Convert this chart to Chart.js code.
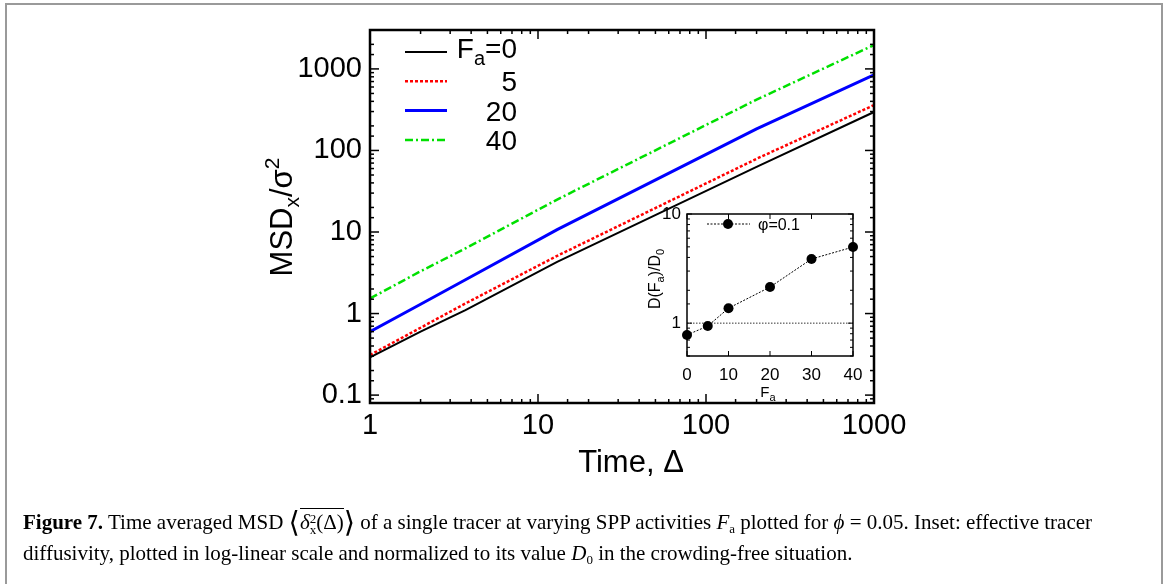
<!DOCTYPE html>
<html lang="en">
<head>
<meta charset="utf-8" />
<title>Figure 7</title>
<style>
    html, body { margin: 0; padding: 0; background: #fff; width: 1168px; height: 584px; overflow: hidden; }
    .frame { position: absolute; left: 5px; top: 3px; width: 1158px; height: 600px; border: 2px solid #9a9a9a; box-sizing: border-box; }
    #main { position: absolute; left: 0; top: 0; }
    #inset { position: absolute; left: 620px; top: 190px; }
    .caption { position: absolute; left: 23px; top: 507px; font-family: "Liberation Serif", serif; font-size: 21px; line-height: 31px; white-space: nowrap; color: #000; }
    .caption i { font-style: italic; }
    .caption sub { font-size: 13px; vertical-align: -4px; line-height: 0; }
    .br { font-family: "DejaVu Serif", serif; font-size: 29px; vertical-align: -3px; line-height: 0; }
    .ov { border-top: 1.5px solid #000; padding-top: 1px; }
    .ss { display: inline-block; vertical-align: -5px; line-height: 11px; font-size: 13px; text-align: left; }
</style>
</head>
<body>
<div class="frame"></div>
<canvas id="main" width="1168" height="584"></canvas>
<canvas id="inset" width="260" height="220"></canvas>
<div class="caption"><b>Figure 7.</b> Time averaged MSD <span class="br">⟨</span><span class="ov"><i>δ</i><span class="ss">2<br>x</span>(Δ)</span><span class="br">⟩</span> of a single tracer at varying SPP activities <i>F</i><sub>a</sub> plotted for <i>ϕ</i> = 0.05. Inset: effective tracer<br>diffusivity, plotted in log-linear scale and normalized to its value <i>D</i><sub>0</sub> in the crowding-free situation.</div>

<script src="https://cdn.jsdelivr.net/npm/chart.js@4.4.1/dist/chart.umd.min.js"></script>
<script>
    // main plot: MSD vs lag time for each activity
    const delta = [1, 2, 3.7, 13, 200, 1000];
    const msdFa0 = [0.29, 0.6, 1.1, 4.3, 63, 296];
    const msdFa5 = [0.31, 0.67, 1.33, 5.1, 79, 360];
    const msdFa20 = [0.6, 1.3, 2.6, 10.7, 184, 845];
    const msdFa40 = [1.53, 3.3, 6.3, 25, 420, 1960];
    const faLabels = ['0', '5', '20', '40'];
    const xTicks = [1, 10, 100, 1000];
    const yTicks = [0.1, 1, 10, 100, 1000];

    // inset: diffusivity ratio vs Fa
    const faInset = [0, 5, 10, 20, 30, 40];
    const dRatio = [0.78, 0.94, 1.37, 2.14, 3.87, 4.98];
    const refX = [0, 40];
    const refY = [1, 1];
    const insetYTicks = [1, 10];

    const FONT = '"Liberation Sans", Arial, sans-serif';

    function pts(xs, ys) {
        return xs.map((x, i) => ({ x: x, y: ys[i] }));
    }

    function logLabel(list) {
        return function (v) {
            const t = list.find(t => Math.abs(Math.log10(v) - Math.log10(t)) < 1e-6);
            return t === undefined ? '' : String(t);
        };
    }

    function isDecade(v) {
        const l = Math.log10(v);
        return Math.abs(l - Math.round(l)) < 1e-6;
    }

    // text with sub/superscripts, parts = [[text, size, dy], ...]
    function drawRich(ctx, parts, x, y, align) {
        let w = 0;
        parts.forEach(p => { ctx.font = p[1] + 'px ' + FONT; w += ctx.measureText(p[0]).width; });
        let cx = align === 'center' ? x - w / 2 : (align === 'right' ? x - w : x);
        ctx.textAlign = 'left';
        ctx.textBaseline = 'alphabetic';
        parts.forEach(p => {
            ctx.font = p[1] + 'px ' + FONT;
            ctx.fillText(p[0], cx, y + (p[2] || 0));
            cx += ctx.measureText(p[0]).width;
        });
    }

    function seg(ctx, x1, y1, x2, y2) {
        ctx.beginPath();
        ctx.moveTo(x1, y1);
        ctx.lineTo(x2, y2);
        ctx.stroke();
    }

    // frame + inward ticks on all four sides
    function frameAndTicks(chart, o) {
        const { ctx, chartArea: a, scales } = chart;
        ctx.save();
        ctx.strokeStyle = '#000';
        ctx.lineWidth = o.tickWidth;
        scales.x.ticks.forEach(t => {
            if (t.value < scales.x.min || t.value > scales.x.max) return;
            const px = scales.x.getPixelForValue(t.value);
            const len = o.xMajor(t.value) ? o.major : o.minor;
            if (len <= 0) return;
            seg(ctx, px, a.bottom, px, a.bottom - len);
            seg(ctx, px, a.top, px, a.top + len);
        });
        scales.y.ticks.forEach(t => {
            if (t.value < scales.y.min || t.value > scales.y.max) return;
            const py = scales.y.getPixelForValue(t.value);
            const len = o.yMajor(t.value) ? o.major : o.minor;
            seg(ctx, a.left, py, a.left + len, py);
            seg(ctx, a.right, py, a.right - len, py);
        });
        ctx.lineWidth = o.frameWidth;
        ctx.strokeRect(a.left, a.top, a.right - a.left, a.bottom - a.top);
        ctx.restore();
    }

    const mainDecor = {
        id: 'mainDecor',
        afterDraw(chart) {
            const ctx = chart.ctx;
            frameAndTicks(chart, { major: 9, minor: 4, tickWidth: 1.5, frameWidth: 2.5, xMajor: isDecade, yMajor: isDecade });
            ctx.save();
            ctx.fillStyle = '#000';
            // x title
            drawRich(ctx, [['Time, Δ', 31]], 631, 472, 'center');
            // y title
            ctx.translate(292, 217);
            ctx.rotate(-Math.PI / 2);
            drawRich(ctx, [['MSD', 31], ['x', 21, 7], ['/σ', 31], ['2', 21, -13]], 0, 0, 'center');
            ctx.restore();

            // legend
            ctx.save();
            chart.data.datasets.forEach((ds, i) => {
                const y = 52 + i * 29.3;
                ctx.strokeStyle = ds.borderColor;
                ctx.lineWidth = ds.borderWidth;
                ctx.setLineDash(ds.borderDash || []);
                seg(ctx, 405, y, 447, y);
                ctx.setLineDash([]);
                ctx.fillStyle = '#000';
                if (i === 0) {
                    drawRich(ctx, [['F', 28], ['a', 20, 7], ['=' + faLabels[i], 28]], 517, y + 6, 'right');
                } else {
                    drawRich(ctx, [[faLabels[i], 28]], 517, y + 10, 'right');
                }
            });
            ctx.restore();
        }
    };

    new Chart(document.getElementById('main'), {
        type: 'line',
        data: {
            datasets: [{
                label: faLabels[0],
                data: pts(delta, msdFa0),
                borderColor: '#000000',
                borderWidth: 2,
            }, {
                label: faLabels[1],
                data: pts(delta, msdFa5),
                borderColor: '#ff0000',
                borderWidth: 2.5,
                borderDash: [3, 2],
            }, {
                label: faLabels[2],
                data: pts(delta, msdFa20),
                borderColor: '#0000ff',
                borderWidth: 3,
            }, {
                label: faLabels[3],
                data: pts(delta, msdFa40),
                borderColor: '#00e000',
                borderWidth: 2.5,
                borderDash: [8, 3, 2, 3],
            }],
        },
        options: {
            responsive: false,
            animation: false,
            devicePixelRatio: 1,
            layout: { padding: { left: 0, top: 30, right: 294, bottom: 0 } },
            elements: { point: { radius: 0 }, line: { tension: 0 } },
            plugins: { legend: { display: false }, tooltip: { enabled: false } },
            scales: {
                x: {
                    type: 'logarithmic',
                    min: 1,
                    max: 1000,
                    grid: { display: false, drawTicks: false },
                    border: { display: false },
                    ticks: {
                        autoSkip: false, maxRotation: 0, padding: 6,
                        color: '#000', font: { family: FONT, size: 29 },
                        callback: logLabel(xTicks),
                    },
                    afterFit(s) { s.height = 181; },
                },
                y: {
                    type: 'logarithmic',
                    min: 0.08,
                    max: 3000,
                    grid: { display: false, drawTicks: false },
                    border: { display: false },
                    ticks: {
                        autoSkip: false, padding: 8,
                        color: '#000', font: { family: FONT, size: 29 },
                        callback: logLabel(yTicks),
                    },
                    afterFit(s) { s.width = 370; },
                },
            },
        },
        plugins: [mainDecor],
    });

    const insetDecor = {
        id: 'insetDecor',
        afterDraw(chart) {
            const ctx = chart.ctx;
            frameAndTicks(chart, { major: 5, minor: 3, tickWidth: 1, frameWidth: 1.5, xMajor: () => true, yMajor: isDecade });
            ctx.save();
            ctx.fillStyle = '#000';
            drawRich(ctx, [['F', 15], ['a', 11, 4]], 148, 207, 'center');
            ctx.translate(40, 89);
            ctx.rotate(-Math.PI / 2);
            drawRich(ctx, [['D(F', 16], ['a', 11, 4], [')/D', 16], ['0', 11, 4]], 0, 0, 'center');
            ctx.restore();

            // legend
            ctx.save();
            ctx.strokeStyle = '#000';
            ctx.lineWidth = 1;
            ctx.setLineDash([2, 1.5]);
            seg(ctx, 87, 34, 130, 34);
            ctx.setLineDash([]);
            ctx.beginPath();
            ctx.arc(108, 34, 5, 0, Math.PI * 2);
            ctx.fillStyle = '#000';
            ctx.fill();
            drawRich(ctx, [['φ=0.1', 16]], 138, 40, 'left');
            ctx.restore();
        }
    };

    new Chart(document.getElementById('inset'), {
        type: 'line',
        data: {
            datasets: [{
                label: 'phi=0.1',
                data: pts(faInset, dRatio),
                borderColor: '#000',
                borderWidth: 1,
                borderDash: [2, 1.5],
                pointRadius: 5,
                pointBackgroundColor: '#000',
                pointBorderWidth: 0,
                clip: false,
            }, {
                label: 'ref',
                data: pts(refX, refY),
                borderColor: '#333',
                borderWidth: 1,
                borderDash: [1.5, 1.5],
                pointRadius: 0,
            }],
        },
        options: {
            responsive: false,
            animation: false,
            devicePixelRatio: 1,
            layout: { padding: { left: 0, top: 24, right: 27, bottom: 0 } },
            elements: { line: { tension: 0 } },
            plugins: { legend: { display: false }, tooltip: { enabled: false } },
            scales: {
                x: {
                    type: 'linear',
                    min: 0,
                    max: 40,
                    grid: { display: false, drawTicks: false },
                    border: { display: false },
                    ticks: {
                        stepSize: 10, autoSkip: false, maxRotation: 0, padding: 9,
                        color: '#000', font: { family: FONT, size: 17 },
                    },
                    afterFit(s) { s.height = 54; },
                },
                y: {
                    type: 'logarithmic',
                    min: 0.5,
                    max: 10,
                    grid: { display: false, drawTicks: false },
                    border: { display: false },
                    ticks: {
                        autoSkip: false, padding: 6,
                        color: '#000', font: { family: FONT, size: 17 },
                        callback: logLabel(insetYTicks),
                    },
                    afterFit(s) { s.width = 67; },
                },
            },
        },
        plugins: [insetDecor],
    });
</script>
</body>
</html>
